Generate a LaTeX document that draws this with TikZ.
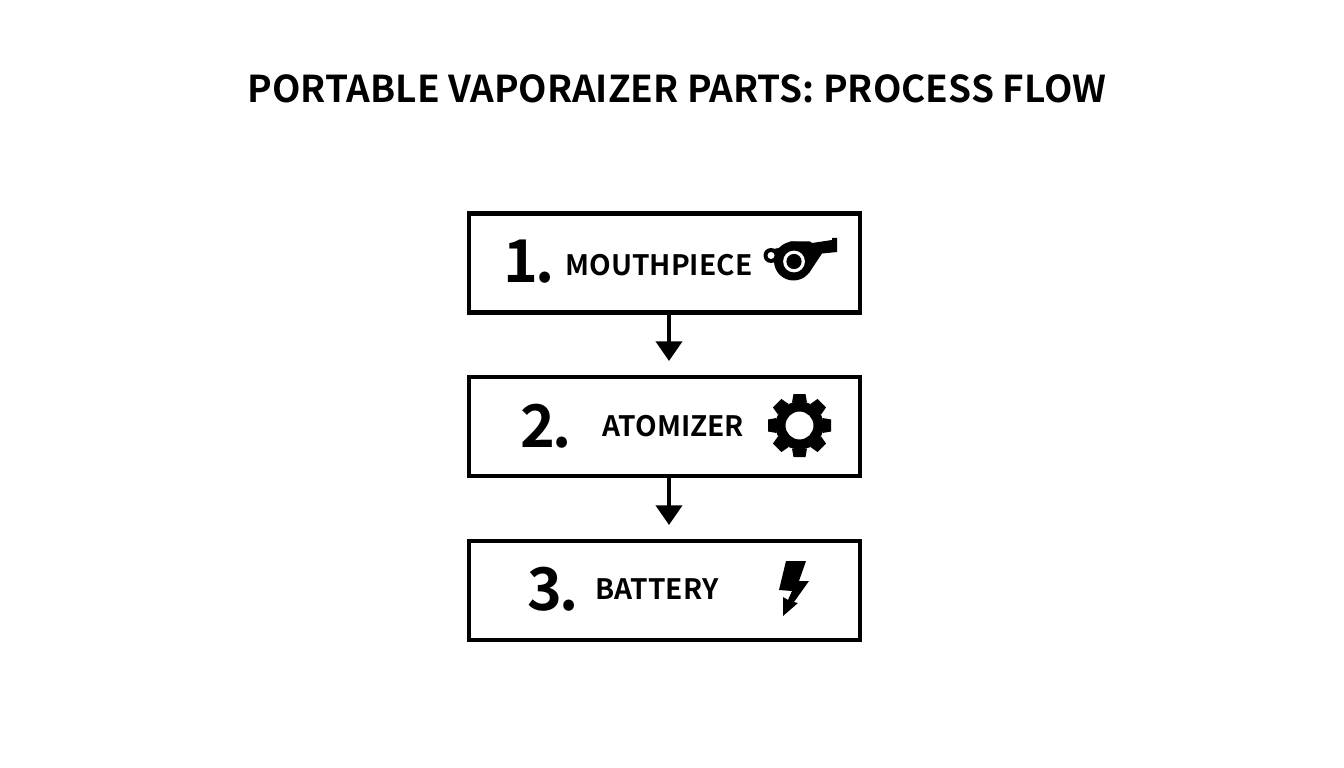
\documentclass[tikz,border=0pt]{standalone}
\usepackage{fontspec}
\setmainfont{Noto Sans CJK SC}[BoldFont={Noto Sans CJK SC Bold}]
\usetikzlibrary{arrows.meta,positioning}
\begin{document}
\begin{tikzpicture}[x=0.025cm,y=-0.025cm,
    every node/.style={font=\bfseries},
    partbox/.style={draw=black,line width=4.2*0.7113pt,minimum width=391.5*0.025cm,minimum height=99*0.025cm,inner sep=0pt},
    flowarrow/.style={draw=black,line width=2.9pt,-{Triangle[width=18.5pt,length=14pt]}},
    numlabel/.style={font=\bfseries\fontsize{42}{42}\selectfont,inner sep=0pt},
    partlabel/.style={font=\bfseries\fontsize{20}{20}\selectfont,inner sep=0pt}]
\useasboundingbox (0,0) rectangle (1344,768);
\def\gearx{799.5}
\def\geary{425.5}

% Title
\node[font=\bfseries\fontsize{26.3}{26.3}\selectfont,inner sep=0pt] (title) at (677,88.7) {PORTABLE VAPORAIZER PARTS: PROCESS FLOW};

% Boxes
\node[partbox] (mouthpiece) at (664.5,263) {};
\node[partbox,below=60.5*0.025cm of mouthpiece] (atomizer) {};
\node[partbox,below=60.5*0.025cm of atomizer] (battery) {};

% Connectors
\coordinate (tipone) at (669,361);
\coordinate (tiptwo) at (669,525);
\draw[flowarrow] (mouthpiece.south -| tipone) -- (tipone);
\draw[flowarrow] (atomizer.south -| tiptwo) -- (tiptwo);

% Numbers and names
\node[numlabel] (num1) at (529,262) {1\kern-2pt.};
\node[partlabel] (name1) at (659,265) {MOUTHPIECE};
\node[numlabel] (num2) at (546,426) {2\kern-2pt.};
\node[partlabel] (name2) at (673.5,426) {ATOMIZER};
\node[numlabel] (num3) at (553,589) {3\kern-2pt.};
\node[partlabel] (name3) at (657,589) {BATTERY};

% Whistle
\fill[black] (793.5,261) circle[radius=19.5];
\fill[black] (790,241.5) -- (810,241.5) -- (812,243) -- (832,240) -- (832,238) -- (837,238)
    -- (837,252) -- (822,253.5) -- (809,273) -- (793,261) -- cycle;
\fill[black] (771,249.5) -- (784,247) -- (780,262.5) -- (771,262) -- cycle;
\fill[black] (771,255.5) circle[radius=7.5];
\fill[white] (771,255.5) circle[radius=3.5];
\fill[white] (794,261.5) circle[radius=10.9];
\fill[black] (794,261.5) circle[radius=7.6];

% Gear
\foreach \a in {0,45,...,315}{
    \fill[black,rotate around={\a:(\gearx,\geary)}]
        (\gearx-7.5,\geary-23) -- (\gearx-6,\geary-31.5) -- (\gearx+6,\geary-31.5) -- (\gearx+7.5,\geary-23) -- cycle;
}
\fill[black,even odd rule] (\gearx,\geary) circle[radius=24] (\gearx,\geary) circle[radius=14];

% Lightning bolt
\fill[black] (786,561) -- (806,561) -- (799,581) -- (809,581) -- (794,602) -- (798,603)
    -- (783,616) -- (783,597) -- (788,600) -- (792,591) -- (779,590) -- cycle;
\end{tikzpicture}
\end{document}
